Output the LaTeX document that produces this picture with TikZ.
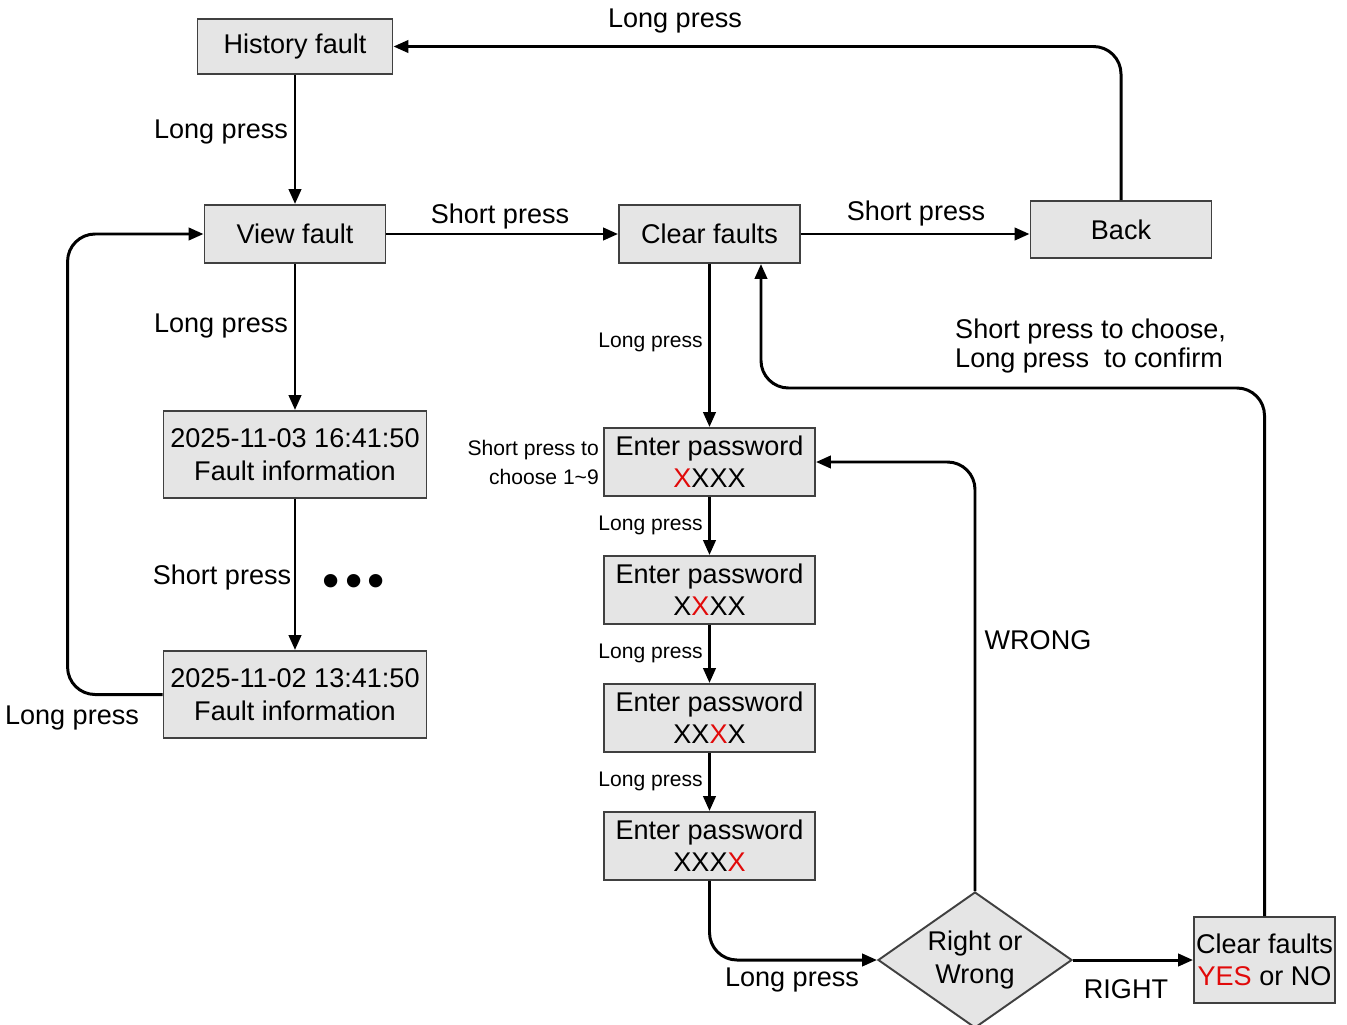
\documentclass[tikz,border=0pt]{standalone}
\usepackage{fontspec}
\setmainfont{Liberation Sans}
\usetikzlibrary{arrows.meta,shapes.geometric}
\definecolor{xred}{RGB}{225,10,10}
\newcommand{\rx}{\textcolor{xred}{X}}

\begin{document}
\begin{tikzpicture}[x=0.02cm,y=-0.02cm,
    font=\fontsize{15.4}{18}\selectfont,
    box/.style={draw=black!75,line width=1.1pt,fill=black!10,inner sep=0pt,align=center},
    small/.style={font=\fontsize{12}{16.5}\selectfont},
    conn/.style={line width=1.7pt,-{Triangle[length=8.5pt,width=7pt]},rounded corners=0.55cm}]
  \useasboundingbox (0,0) rectangle (1347,1025);

  % left column
  \node[box,minimum width=3.9cm,minimum height=1.1cm] (H) at (295,46.5) {History fault};
  \node[box,minimum width=3.62cm,minimum height=1.16cm] (V) at (295,234) {View fault};
  \node[box,minimum width=5.26cm,minimum height=1.74cm] (F1) at (295,454.5) {2025-11-03 16:41:50\\[1pt]Fault information};
  \node[box,minimum width=5.26cm,minimum height=1.74cm] (F2) at (295,694.5) {2025-11-02 13:41:50\\[1pt]Fault information};

  % top row
  \node[box,minimum width=3.62cm,minimum height=1.16cm] (C) at (709.5,234) {Clear faults};
  \node[box,minimum width=3.62cm,minimum height=1.14cm] (B) at (1121,229.5) {Back};

  % password column
  \node[box,minimum width=4.22cm,minimum height=1.36cm] (E1) at (709.5,462) {Enter password\\\rx XXX};
  \node[box,minimum width=4.22cm,minimum height=1.36cm] (E2) at (709.5,590) {Enter password\\X\rx XX};
  \node[box,minimum width=4.22cm,minimum height=1.36cm] (E3) at (709.5,718) {Enter password\\XX\rx X};
  \node[box,minimum width=4.22cm,minimum height=1.36cm] (E4) at (709.5,846) {Enter password\\XXX\rx};

  \node[box,diamond,aspect=1.4,minimum width=3.88cm,minimum height=2.72cm] (D) at (975,960) {Right or\\[1pt]Wrong};
  \node[box,minimum width=2.82cm,minimum height=1.72cm] (Y) at (1264.5,960) {Clear faults\\\textcolor{xred}{YES} or NO};

  % connectors
  \draw[conn] (B.north) |- (H.east);
  \draw[conn] (H) -- (V);
  \draw[conn] (V) -- (C);
  \draw[conn] (C.east) -- (C.east -| B.west);
  \draw[conn] (V) -- (F1);
  \draw[conn] (F1) -- (F2);
  \draw[conn] (F2.west) -- ++(-95,0) |- (V.west);
  \draw[conn] (C) -- (E1);
  \draw[conn] (E1) -- (E2);
  \draw[conn] (E2) -- (E3);
  \draw[conn] (E3) -- (E4);
  \draw[conn] (E4.south) |- (D.west);
  \draw[conn] (D.north) |- (E1.east);
  \draw[conn] (D) -- (Y);
  \draw[conn] (Y.north) -- (Y.north |- 0,388) -| ([xshift=1.03cm]C.south);

  % labels
  \node (l1) at (675,21) {Long press};
  \node (l2) at (221,132) {Long press};
  \node (l3) at (500,217) {Short press};
  \node (l4) at (916,213) {Short press};
  \node (l5) at (221,326) {Long press};
  \node (l6) at (222,577) {Short press};
  \node[font=\fontsize{28}{30}\selectfont] (dots) at (354,586) {•\hspace{3pt}•\hspace{3pt}•};
  \node (l7) at (72,718) {Long press};
  \node[small,anchor=east] (s1) at (709,342) {Long press};
  \node[small,anchor=east,align=right] (s2) at (605,462) {Short press to\\choose 1\textasciitilde9};
  \node[small,anchor=east] (s3) at (709,525) {Long press};
  \node[small,anchor=east] (s4) at (709,653) {Long press};
  \node[small,anchor=east] (s5) at (709,781) {Long press};
  \node (l8) at (792,980) {Long press};
  \node (w) at (1038,640) {WRONG};
  \node (r) at (1126,989) {RIGHT};
  \node[anchor=west,align=left,font=\fontsize{15.4}{17}\selectfont] (l9) at (949,346) {Short press to choose,\\Long press \ to confirm};
\end{tikzpicture}
\end{document}
